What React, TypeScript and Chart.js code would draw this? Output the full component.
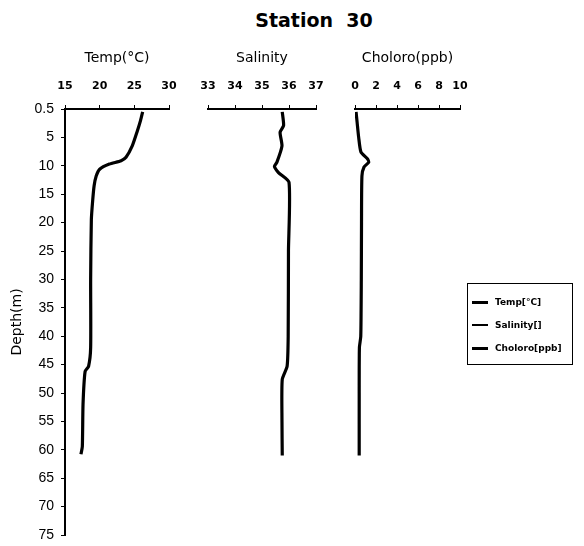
import React, { useEffect, useRef } from "react";
import { Chart, registerables } from "chart.js";

Chart.register(...registerables);

// ---- data ----
const depthTickValues = [0, 5, 10, 15, 20, 25, 30, 35, 40, 45, 50, 55, 60, 65, 70, 75];
const depthTickLabels = ["0.5", "5", "10", "15", "20", "25", "30", "35", "40", "45", "50", "55", "60", "65", "70", "75"];

const tempDepth = [0.5, 2, 4, 6.5, 8.5, 9.1, 9.7, 10.6, 11.8, 13.5, 16, 19.5, 30, 42, 45.3, 46.2, 52, 59.4, 60.8];
const tempValues = [26.2, 25.9, 25.4, 24.7, 23.8, 23.1, 21.4, 20.0, 19.5, 19.2, 19.0, 18.8, 18.7, 18.7, 18.4, 17.9, 17.6, 17.5, 17.3];

const salDepth = [0.5, 2.9, 4.1, 6.5, 9.4, 10.1, 11.2, 12.9, 25, 40, 45.3, 47.6, 55, 61];
const salValues = [35.75, 35.8, 35.67, 35.74, 35.55, 35.46, 35.61, 36.0, 35.98, 35.97, 35.93, 35.75, 35.74, 35.75];

const chlDepth = [0.5, 2.3, 5, 7.6, 8.8, 9.4, 10.2, 11.8, 20, 30, 40, 42, 50, 61];
const chlValues = [0.1, 0.2, 0.35, 0.57, 1.2, 1.3, 0.86, 0.66, 0.62, 0.6, 0.55, 0.42, 0.4, 0.4];

const panels = [
  { title: "Temp(°C)", min: 15, max: 30, step: 5, depth: tempDepth, values: tempValues, left: 65, right: 169, showY: true },
  { title: "Salinity", min: 33, max: 37, step: 1, depth: salDepth, values: salValues, left: 208, right: 316, showY: false },
  { title: "Choloro(ppb)", min: 0, max: 10, step: 2, depth: chlDepth, values: chlValues, left: 355, right: 460, showY: false },
];

const legendLabels = ["Temp[°C]", "Salinity[]", "Choloro[ppb]"];

const W = 584;
const H = 546;
const PLOT_TOP = 109;
const PLOT_BOTTOM = 535;
const PAD_TOP = 50;

function Panel({ p }: { p: typeof panels[number] }) {
  const ref = useRef<HTMLCanvasElement | null>(null);
  useEffect(() => {
    if (!ref.current) return;
    const axisCommon = {
      grid: { drawOnChartArea: false, drawTicks: true, tickLength: 4, color: "#000", lineWidth: 1 },
      border: { display: true, color: "#000", width: 2 },
    };
    const chart = new Chart(ref.current, {
      type: "line",
      data: {
        datasets: [
          {
            data: p.depth.map((d, i) => ({ x: p.values[i], y: d })),
            borderColor: "#000",
            backgroundColor: "#000",
            borderWidth: 3.2,
            pointRadius: 0,
            tension: 0.2,
            fill: false,
          },
        ],
      },
      options: {
        responsive: false,
        animation: false,
        layout: { padding: { left: p.showY ? 0 : p.left, right: W - p.right, top: PAD_TOP, bottom: H - PLOT_BOTTOM } },
        plugins: { legend: { display: false }, tooltip: { enabled: false }, title: { display: false } },
        scales: {
          x: {
            type: "linear",
            position: "top",
            min: p.min,
            max: p.max,
            ticks: {
              stepSize: p.step,
              color: "#000",
              padding: 12,
              maxRotation: 0,
              autoSkip: false,
              font: { family: "DejaVu Sans", size: 11, weight: "bold" },
            },
            title: {
              display: true,
              text: p.title,
              color: "#000",
              padding: 0,
              font: { family: "DejaVu Sans", size: 14 },
            },
            afterFit: (s: any) => {
              s.height = PLOT_TOP - PAD_TOP;
              s.paddingLeft = 0;
              s.paddingRight = 0;
            },
            ...axisCommon,
          },
          y: {
            type: "linear",
            reverse: true,
            min: 0,
            max: 75,
            display: p.showY,
            afterBuildTicks: (s: any) => {
              s.ticks = depthTickValues.map((v) => ({ value: v }));
            },
            ticks: {
              color: "#000",
              padding: 7,
              font: { family: "Liberation Sans", size: 14 },
              callback: (v: any) => {
                const i = depthTickValues.indexOf(Number(v));
                return i >= 0 ? depthTickLabels[i] : "";
              },
            },
            title: {
              display: true,
              text: "Depth(m)",
              color: "#000",
              padding: { top: 9, bottom: 0 },
              font: { family: "DejaVu Sans", size: 14 },
            },
            afterFit: (s: any) => {
              s.width = p.showY ? p.left : 0;
              s.paddingTop = 0;
              s.paddingBottom = 0;
            },
            ...axisCommon,
          },
        },
      },
    } as any);
    return () => chart.destroy();
  }, [p]);
  return <canvas ref={ref} width={W} height={H} style={{ position: "absolute", left: 0, top: 0, width: W, height: H }} />;
}

export default function App() {
  return (
    <div style={{ position: "absolute", left: 0, top: 0, width: W, height: H, background: "#fff", overflow: "hidden" }}>
      <div
        style={{
          position: "absolute",
          left: 214,
          width: 200,
          top: 9,
          textAlign: "center",
          fontFamily: "DejaVu Sans",
          fontWeight: "bold",
          fontSize: 19,
          whiteSpace: "pre",
          color: "#000",
        }}
      >
        {"Station  30"}
      </div>
      {panels.map((p, i) => (
        <Panel key={i} p={p} />
      ))}
      <div
        style={{
          position: "absolute",
          left: 467,
          top: 283,
          width: 106,
          height: 82,
          borderTop: "1.5px solid #000",
          borderLeft: "1px solid #000",
          borderBottom: "1.5px solid #000",
          borderRight: "1px solid #000",
          boxSizing: "border-box",
          fontFamily: "DejaVu Sans",
          fontWeight: "bold",
          fontSize: 9,
          color: "#000",
        }}
      >
        {legendLabels.map((t, i) => (
          <div key={t} style={{ position: "absolute", left: 4, top: 12 + i * 23, height: 12, display: "flex", alignItems: "center" }}>
            <span style={{ display: "inline-block", width: 16, height: i === 1 ? 2 : 3, background: "#000", marginRight: 7 }} />
            <span>{t}</span>
          </div>
        ))}
      </div>
    </div>
  );
}
